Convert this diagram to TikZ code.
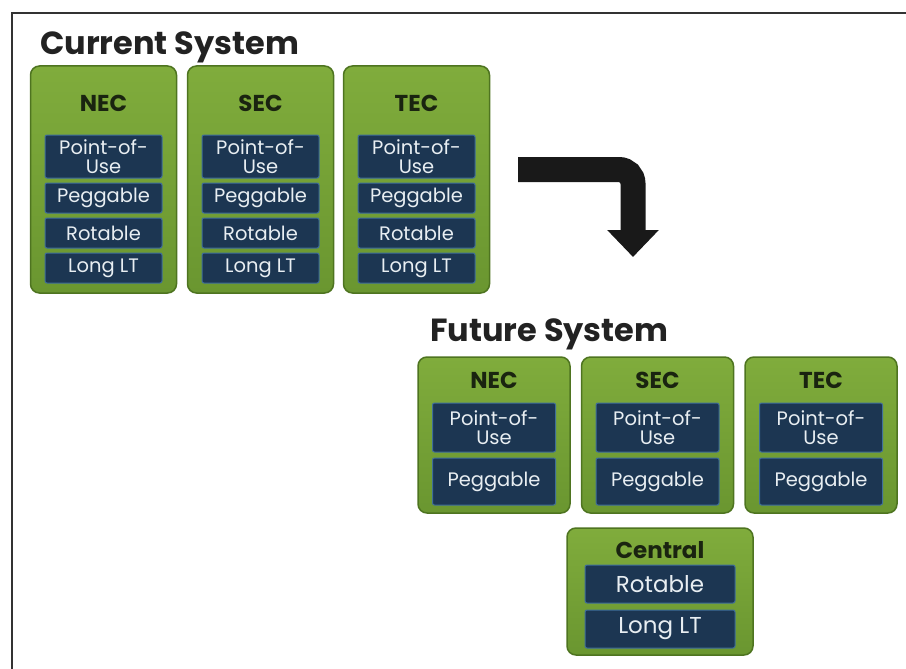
\documentclass[tikz,border=0pt]{standalone}
\usepackage{fontspec}
\setmainfont{Poppins}
\usetikzlibrary{arrows.meta}
\definecolor{glight}{HTML}{80AC3C}
\definecolor{gdark}{HTML}{6A9630}
\definecolor{gborder}{HTML}{4E7420}
\definecolor{bfill}{HTML}{1C3652}
\definecolor{bborder}{HTML}{3F6E9A}
\definecolor{btext}{HTML}{E8EEF2}
\definecolor{labtext}{HTML}{1A2410}
\definecolor{titletext}{HTML}{222222}
\begin{document}
\begin{tikzpicture}[x=1pt,y=-1pt,
  gbox/.style={draw=gborder, line width=1.5pt, rounded corners=9pt, top color=glight, bottom color=gdark, inner sep=0pt},
  bbox/.style={draw=bborder, fill=bfill, line width=1pt, rounded corners=2pt, text=btext, align=center, inner sep=0pt, font=\fontsize{19.5}{19}\selectfont},
  glabel/.style={text=labtext, font=\fontsize{23}{24}\selectfont\bfseries},
  title/.style={text=titletext, font=\fontsize{32}{36}\selectfont\bfseries, anchor=base west, inner sep=0pt},
  frame/.style={draw=black!80, line width=2pt},
  bigarrow/.style={draw=black!90, line width=25pt, rounded corners=14pt, -{Triangle[length=27pt,width=50pt]}}
]
\useasboundingbox (0,0) rectangle (906,669);
\draw[frame] (906,13) -- (12,13) -- (12,669);

% titles
\node[title] (tcur) at (40,55) {Current System};
\node[title] (tfut) at (430,341) {Future System};

% current system
\foreach \n/\cx/\lab in {cn/103.5/NEC, cs/260.5/SEC, ct/416.5/TEC}{
  \node[gbox, minimum width=146, minimum height=227] (\n) at (\cx,179.5) {};
  \node[glabel] (\n-l) at (\cx,103) {\lab};
  \node[bbox, minimum width=117, minimum height=43] (\n-p) at (\cx,156.5) {Point-of-\\Use};
  \node[bbox, minimum width=117, minimum height=30] (\n-g) at (\cx,198) {Peggable};
  \node[bbox, minimum width=117, minimum height=30] (\n-r) at (\cx,233) {Rotable};
  \node[bbox, minimum width=117, minimum height=30] (\n-t) at (\cx,268) {Long LT};
}

% arrow
\coordinate (arrS) at (518,169.5);
\coordinate (arrT) at (633,257);
\draw[bigarrow] (arrS) -| (arrT);

% future system
\foreach \n/\cx/\lab in {fn/494/NEC, fs/657.5/SEC, ft/821/TEC}{
  \node[gbox, minimum width=152, minimum height=156] (\n) at (\cx,435) {};
  \node[glabel] (\n-l) at (\cx,380) {\lab};
  \node[bbox, minimum width=123, minimum height=49] (\n-p) at (\cx,427.5) {Point-of-\\Use};
  \node[bbox, minimum width=123, minimum height=47] (\n-g) at (\cx,481.5) {Peggable};
}

% central
\node[gbox, minimum width=186, minimum height=127] (cc) at (660,591.5) {};
\node[glabel] (cc-l) at (660,550) {Central};
\node[bbox, minimum width=150, minimum height=38, font=\fontsize{23}{24}\selectfont] (cc-r) at (660,584) {Rotable};
\node[bbox, minimum width=150, minimum height=38, font=\fontsize{23}{24}\selectfont] (cc-t) at (660,629) {Long LT};
\end{tikzpicture}
\end{document}
